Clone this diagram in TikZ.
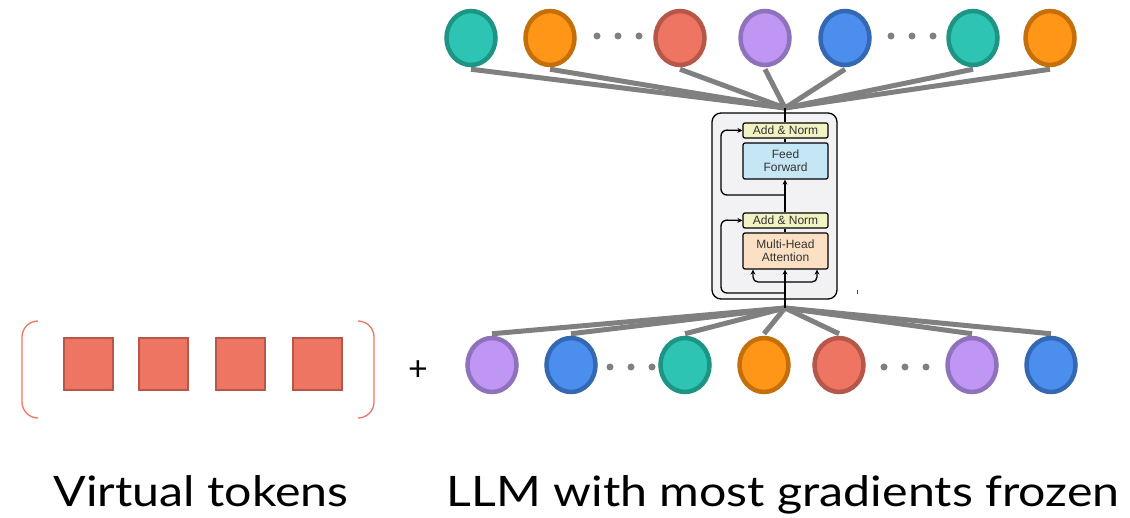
\documentclass[tikz,border=0pt]{standalone}
\usepackage{fontspec}
\setmainfont{Lato}
\newfontfamily\smallsans{Liberation Sans}
\usetikzlibrary{shapes.geometric,arrows.meta,backgrounds}

\definecolor{tealF}{HTML}{2EC4B4}\definecolor{tealD}{HTML}{1E9484}
\definecolor{orangeF}{HTML}{FF9617}\definecolor{orangeD}{HTML}{C46F0A}
\definecolor{redF}{HTML}{EE7562}\definecolor{redD}{HTML}{B5584A}
\definecolor{purpF}{HTML}{C096F4}\definecolor{purpD}{HTML}{8E72BC}
\definecolor{blueF}{HTML}{4C8EEE}\definecolor{blueD}{HTML}{3568B3}
\definecolor{wire}{HTML}{808080}
\definecolor{boxbg}{HTML}{F2F2F4}
\definecolor{normF}{HTML}{F2F3C2}
\definecolor{ffF}{HTML}{C5E6F5}
\definecolor{mhaF}{HTML}{FCE0C3}

\tikzset{
  tok/.style n args={2}{ellipse, draw=#2, fill=#1, line width=4.5pt,
    minimum width=49pt, minimum height=54pt, inner sep=0pt},
  vtok/.style={rectangle, draw=redD, fill=redF, line width=2pt,
    minimum width=49pt, minimum height=52pt, inner sep=0pt},
  wireline/.style={draw=wire, line width=5pt},
  dotmark/.style={circle, fill=wire, minimum size=7pt, inner sep=0pt},
  sub/.style={rectangle, rounded corners=2pt, draw=black, line width=1.2pt,
    minimum width=85pt, inner sep=0pt, font=\smallsans\fontsize{12}{13}\selectfont,
    align=center, text=black!80},
  flow/.style={draw=black, line width=1.3pt},
  flowarrow/.style={flow, -{Stealth[length=5pt,width=5pt]}},
  brace/.style={draw=redF, line width=1.3pt, rounded corners=16pt},
  caption/.style={anchor=base, inner sep=0pt, font=\fontsize{42}{46}\selectfont},
}

\begin{document}
\begin{tikzpicture}[x=1pt,y=-1pt]
\useasboundingbox (0,0) rectangle (1130,518);

% output tokens
\node[tok={tealF}{tealD}]     (o1) at (471,38) {};
\node[tok={orangeF}{orangeD}] (o2) at (550,38) {};
\node[tok={redF}{redD}]       (o3) at (680,38) {};
\node[tok={purpF}{purpD}]     (o4) at (765,38) {};
\node[tok={blueF}{blueD}]     (o5) at (845,38) {};
\node[tok={tealF}{tealD}]     (o6) at (973,38) {};
\node[tok={orangeF}{orangeD}] (o7) at (1050,38) {};
\foreach \x [count=\i] in {597,618,639,891,912,933}
  \node[dotmark] (od\i) at (\x,36) {};

% input tokens
\node[tok={purpF}{purpD}]     (i1) at (492,365) {};
\node[tok={blueF}{blueD}]     (i2) at (571,365) {};
\node[tok={tealF}{tealD}]     (i3) at (685,365) {};
\node[tok={orangeF}{orangeD}] (i4) at (764,365) {};
\node[tok={redF}{redD}]       (i5) at (839,365) {};
\node[tok={purpF}{purpD}]     (i6) at (972,365) {};
\node[tok={blueF}{blueD}]     (i7) at (1051,365) {};
\foreach \x [count=\i] in {610,631,652,884,905,926}
  \node[dotmark] (id\i) at (\x,367) {};

% transformer block
\node[rectangle, rounded corners=9pt, draw=black, line width=1.3pt, fill=boxbg,
  minimum width=125pt, minimum height=186pt, inner sep=0pt] (blk) at (774.5,206) {};
\node[sub, fill=normF, minimum height=15pt] (an1) at (785.5,130.5) {Add \& Norm};
\node[sub, fill=ffF, minimum height=36pt]   (ff)  at (785.5,161) {Feed\\Forward};
\node[sub, fill=normF, minimum height=15pt] (an2) at (785.5,220.5) {Add \& Norm};
\node[sub, fill=mhaF, minimum height=36pt]  (mha) at (785.5,251) {Multi-Head\\Attention};

\coordinate (top) at (785,108);
\coordinate (bot) at (785,308);

% fan-out wires behind the tokens
\begin{scope}[on background layer]
  \foreach \n in {o1,o2,o3,o4,o5,o6,o7}
    \draw[wireline] (top) -- ([yshift=-2pt]\n.south);
  \foreach \n in {i1,i2,i3,i4,i5,i6,i7}
    \draw[wireline] (bot) -- ([yshift=2pt]\n.north);
\end{scope}

% data flow inside the block
\draw[flow] (bot) -- (785,299);
\draw[flowarrow] (bot) -- (mha.south -| 785,0);
\draw[flowarrow, rounded corners=5pt] (785,282) -| (753,0 |- mha.south);
\draw[flowarrow, rounded corners=5pt] (785,282) -| (817,0 |- mha.south);
\draw[flow] (mha.north -| 785,0) -- (an2.south -| 785,0);
\draw[flowarrow] (an2.north -| 785,0) -- (ff.south -| 785,0);
\draw[flow] (ff.north -| 785,0) -- (an1.south -| 785,0);
\draw[flow] (an1.north -| 785,0) -- (top);
\draw[flowarrow, rounded corners=6pt] (785,293) -| (721,220) -- (an2.west);
\draw[flowarrow, rounded corners=6pt] (785,195) -| (721,130) -- (an1.west);
\draw[draw=black!70, line width=0.8pt] (857.5,290) -- (857.5,294);

% virtual tokens
\node[vtok] (v1) at (88,364) {};
\node[vtok] (v2) at (163,364) {};
\node[vtok] (v3) at (240,364) {};
\node[vtok] (v4) at (317,364) {};
\draw[brace] (38,321) -| (22,418) -- (38,418);
\draw[brace] (358,321) -| (374,418) -- (358,418);
\node[font=\fontsize{34}{34}\selectfont] (plus) at (418,371) {+};

% captions
\node[caption] (cap1) at (201,506) {\scalebox{1.15}[1]{Virtual tokens}};
\node[caption] (cap2) at (783,506) {\scalebox{1.15}[1]{LLM with most gradients frozen}};
\end{tikzpicture}
\end{document}
